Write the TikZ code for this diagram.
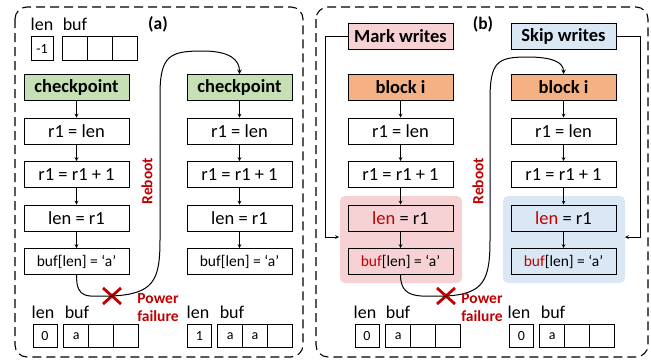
\documentclass[tikz,border=0pt]{standalone}
\usepackage{fontspec}
\setmainfont{Carlito}
\usetikzlibrary{positioning}
\definecolor{ckgreen}{HTML}{C5E0B4}
\definecolor{blkorange}{HTML}{F4B183}
\definecolor{markpink}{HTML}{F7D2D5}
\definecolor{skipblue}{HTML}{DAE7F4}
\definecolor{darkred}{HTML}{C00000}
\newcommand{\hl}[1]{{\color{darkred}#1}}
\begin{document}
\begin{tikzpicture}[x=1pt,y=-1pt,node distance=43.5pt,>=stealth,line width=1pt]
\tikzstyle{stmt}=[rectangle,draw,minimum width=105pt,minimum height=26pt,inner sep=0pt,font=\fontsize{18.5}{20}\selectfont]
\tikzstyle{head}=[stmt,font=\bfseries\fontsize{18.5}{20}\selectfont]
\tikzstyle{small}=[stmt,font=\fontsize{15.5}{17}\selectfont]
\tikzstyle{cell}=[rectangle,draw,outer sep=0pt,minimum width=24.7pt,minimum height=23.5pt,inner sep=0pt,font=\fontsize{14}{15}\selectfont]
\tikzstyle{lbl}=[inner sep=0pt,font=\fontsize{18}{19}\selectfont]
\tikzstyle{tag}=[inner sep=0pt,font=\bfseries\fontsize{17.5}{19}\selectfont]
\tikzstyle{warn}=[inner sep=0pt,text=darkred,align=center,font=\bfseries\fontsize{15.5}{18}\selectfont]
\tikzstyle{flow}=[->,line width=0.7pt]
\tikzstyle{panel}=[draw,dashed,line width=1.1pt,dash pattern=on 9pt off 5pt,rounded corners=12pt]
\useasboundingbox (0,0) rectangle (651,360);

% panels
\draw[panel] (15,7) rectangle (303,357);
\draw[panel] (316,7) rectangle (648,357);

% (a) initial memory
\node[lbl] (lenA) at (42,24) {len};
\node[lbl] (bufA) at (75,24) {buf};
\node[tag] (tagA) at (158,24) {(a)};
\node[cell,minimum width=22pt] (lA) at (42,48.5) {-1};
\node[cell] (bA1) at (75.3,48.5) {};
\node[cell,right=0pt of bA1] (bA2) {};
\node[cell,right=0pt of bA2] (bA3) {};

% (a) first run
\node[head,fill=ckgreen] (ckA) at (76.5,87.5) {checkpoint};
\node[stmt,below of=ckA] (ldA) {r1 = len};
\node[stmt,below of=ldA] (incA) {r1 = r1 + 1};
\node[stmt,below of=incA] (stA) {len = r1};
\node[small,below of=stA] (wrA) {buf[len] = ‘a’};
\draw[flow] (ckA) -- (ldA);
\draw[flow] (ldA) -- (incA);
\draw[flow] (incA) -- (stA);
\draw[flow] (stA) -- (wrA);

% (a) re-execution
\node[head,fill=ckgreen] (ckA2) at (239.5,87.5) {checkpoint};
\node[stmt,below of=ckA2] (ldA2) {r1 = len};
\node[stmt,below of=ldA2] (incA2) {r1 = r1 + 1};
\node[stmt,below of=incA2] (stA2) {len = r1};
\node[small,below of=stA2] (wrA2) {buf[len] = ‘a’};
\draw[flow] (ckA2) -- (ldA2);
\draw[flow] (ldA2) -- (incA2);
\draw[flow] (incA2) -- (stA2);
\draw[flow] (stA2) -- (wrA2);

% (a) power failure and reboot
\node (crossA) at (112,296) {};
\draw[darkred,line width=2.8pt] (crossA.center) +(-9,-8) -- +(9,8) (crossA.center) +(-9,8) -- +(9,-8);
\coordinate (riseA) at (160,240);
\coordinate (topA) at (160,95);
\coordinate (peakA) at (203,51);
\draw[->] (wrA.south) .. controls +(0,25) and +(-25,0) .. (crossA.center) .. controls +(42,-2) and +(0,40) .. (riseA) -- (topA) .. controls +(0,-40) and +(-33,0) .. (peakA) .. controls +(27,0) and +(0,-14) .. (ckA2.north);
\node[warn,rotate=90] (rbA) at (147,181) {Reboot};
\node[warn] (pfA) at (158,308) {Power\\failure};

% (a) memory after
\node[lbl] (lenA1) at (43,312) {len};
\node[lbl] (bufA1) at (77,312) {buf};
\node[cell,minimum width=24pt] (lA1) at (45,336) {0};
\node[cell] (bA11) at (76.3,336) {a};
\node[cell,right=0pt of bA11] (bA12) {};
\node[cell,right=0pt of bA12] (bA13) {};
\node[lbl] (lenA2) at (198,312) {len};
\node[lbl] (bufA2) at (232,312) {buf};
\node[cell,minimum width=24pt] (lA2) at (199.5,336) {1};
\node[cell] (bA21) at (230.3,336) {a};
\node[cell,right=0pt of bA21] (bA22) {a};
\node[cell,right=0pt of bA22] (bA23) {};

% (b) highlighted stores
\fill[markpink,rounded corners=5pt] (340,196) rectangle (462,283);
\fill[skipblue,rounded corners=5pt] (503,196) rectangle (625,283);

\node[tag] (tagB) at (483,24) {(b)};
\node[head,fill=markpink] (markB) at (400.5,36) {Mark writes};
\node[head,fill=skipblue] (skipB) at (563.5,36) {Skip writes};

% (b) first run
\node[head,fill=blkorange] (blkB) at (400.5,87.5) {block i};
\node[stmt,below of=blkB] (ldB) {r1 = len};
\node[stmt,below of=ldB] (incB) {r1 = r1 + 1};
\node[stmt,below of=incB] (stB) {\hl{len} = r1};
\node[small,below of=stB] (wrB) {\hl{buf}[len] = ‘a’};
\draw[flow] (blkB) -- (ldB);
\draw[flow] (ldB) -- (incB);
\draw[flow] (incB) -- (stB);
\draw[flow] (stB) -- (wrB);

% (b) re-execution
\node[head,fill=blkorange] (blkB2) at (563.5,87.5) {block i};
\node[stmt,below of=blkB2] (ldB2) {r1 = len};
\node[stmt,below of=ldB2] (incB2) {r1 = r1 + 1};
\node[stmt,below of=incB2] (stB2) {\hl{len} = r1};
\node[small,below of=stB2] (wrB2) {\hl{buf}[len] = ‘a’};
\draw[flow] (blkB2) -- (ldB2);
\draw[flow] (ldB2) -- (incB2);
\draw[flow] (incB2) -- (stB2);
\draw[flow] (stB2) -- (wrB2);

% (b) mark / skip links
\coordinate (markIn) at (339,237);
\coordinate (skipIn) at (625,237);
\draw[flow] (markB.west) -- ++(-22,0) |- (markIn);
\draw[flow] (skipB.east) -- ++(24,0) |- (skipIn);

% (b) power failure and reboot
\node (crossB) at (446,296) {};
\draw[darkred,line width=2.8pt] (crossB.center) +(-9,-8) -- +(9,8) (crossB.center) +(-9,8) -- +(9,-8);
\coordinate (riseB) at (490,240);
\coordinate (topB) at (490,100);
\coordinate (peakB) at (527,57);
\draw[->] (wrB.south) .. controls +(0,25) and +(-25,0) .. (crossB.center) .. controls +(38,-2) and +(0,40) .. (riseB) -- (topB) .. controls +(0,-38) and +(-30,0) .. (peakB) .. controls +(25,0) and +(0,-12) .. (blkB2.north);
\node[warn,rotate=90] (rbB) at (478,181) {Reboot};
\node[warn] (pfB) at (482,308) {Power\\failure};

% (b) memory after
\node[lbl] (lenB1) at (365,312) {len};
\node[lbl] (bufB1) at (398,312) {buf};
\node[cell,minimum width=24pt] (lB1) at (367,336) {0};
\node[cell] (bB11) at (398.3,336) {a};
\node[cell,right=0pt of bB11] (bB12) {};
\node[cell,right=0pt of bB12] (bB13) {};
\node[lbl] (lenB2) at (519,312) {len};
\node[lbl] (bufB2) at (553,312) {buf};
\node[cell,minimum width=24pt] (lB2) at (521.5,336) {0};
\node[cell] (bB21) at (552.3,336) {a};
\node[cell,right=0pt of bB21] (bB22) {};
\node[cell,right=0pt of bB22] (bB23) {};
\end{tikzpicture}
\end{document}
